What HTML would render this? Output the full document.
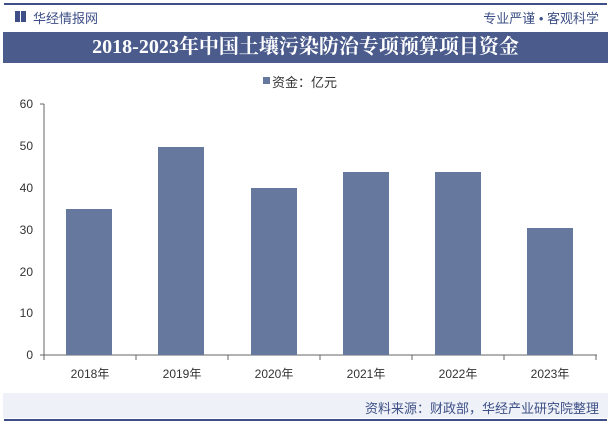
<!DOCTYPE html>
<html><head><meta charset="utf-8"><style>
body{margin:0;width:611px;height:425px;background:#fff;font-family:"Liberation Sans","Noto Sans CJK SC",sans-serif;position:relative;overflow:hidden}
.a{position:absolute}
</style></head><body>
<div class="a" style="left:4px;top:3px;width:603px;height:2px;background:#3d4f86"></div>
<div class="a" style="left:15px;top:11px;width:5px;height:11px;background:#3d4f86"></div>
<div class="a" style="left:21px;top:11px;width:5px;height:11px;background:#3d4f86"></div>
<div class="a" style="left:33px;top:8px;font-size:13px;color:#3d4f86">华经情报网</div>
<div class="a" style="right:12px;top:8px;font-size:13px;color:#3d4f86">专业严谨 • 客观科学</div>
<div class="a" style="left:3px;top:32px;width:605px;height:31px;background:#4a5b8c;color:#fff;font-family:'Liberation Serif','Noto Serif CJK SC',serif;font-weight:bold;font-size:20px;line-height:31px;text-align:center">2018-2023年中国土壤污染防治专项预算项目资金</div>
<div class="a" style="left:263px;top:77px;width:7px;height:7px;background:#67789f"></div>
<div class="a" style="left:272px;top:72px;font-size:13px;color:#333">资金：亿元</div>
<svg class="a" style="left:0;top:0" width="611" height="425">
<g font-size="12" fill="#333" text-anchor="end" font-family="Liberation Sans">
<text x="33" y="108">60</text><text x="33" y="150">50</text><text x="33" y="192">40</text><text x="33" y="234">30</text><text x="33" y="276">20</text><text x="33" y="317">10</text><text x="33" y="359">0</text></g>
<line x1="40" y1="104" x2="44" y2="104" stroke="#666"/>
<line x1="44" y1="104" x2="44" y2="355" stroke="#666"/>
<line x1="40" y1="355" x2="597" y2="355" stroke="#666"/>
<g stroke="#666"><line x1="44" y1="355" x2="44" y2="360"/><line x1="136" y1="355" x2="136" y2="360"/><line x1="228" y1="355" x2="228" y2="360"/><line x1="320" y1="355" x2="320" y2="360"/><line x1="412" y1="355" x2="412" y2="360"/><line x1="504" y1="355" x2="504" y2="360"/><line x1="596" y1="355" x2="596" y2="360"/></g>
<g fill="#67789f">
<rect x="66" y="209" width="46" height="146"/>
<rect x="158" y="147" width="46" height="208"/>
<rect x="251" y="188" width="46" height="167"/>
<rect x="343" y="172" width="46" height="183"/>
<rect x="435" y="172" width="46" height="183"/>
<rect x="527" y="228" width="46" height="127"/>
</g>
<g font-size="12" fill="#333" text-anchor="middle" font-family="Liberation Sans,Noto Sans CJK SC">
<text x="90" y="378">2018年</text><text x="182" y="378">2019年</text><text x="274" y="378">2020年</text><text x="366" y="378">2021年</text><text x="458" y="378">2022年</text><text x="550" y="378">2023年</text></g>
</svg>
<div class="a" style="left:3px;top:393px;width:605px;height:25px;background:#eef1f7"></div>
<div class="a" style="right:12px;top:398px;font-size:13px;color:#3d4f86">资料来源：财政部，华经产业研究院整理</div>
<div class="a" style="left:4px;top:419px;width:603px;height:2px;background:#3d4f86"></div>
</body></html>
